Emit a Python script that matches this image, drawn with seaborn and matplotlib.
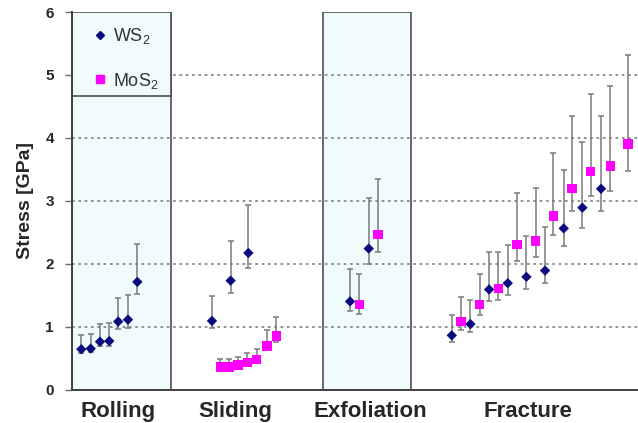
import numpy as np
import pandas as pd
import matplotlib
matplotlib.use("Agg")
import matplotlib.pyplot as plt
import seaborn as sns

# slot positions along the x axis (one slot per measurement)
ws2_x = [1, 2, 3, 4, 4.95, 6, 7,
         15, 17, 18.9,
         29.8, 31.8,
         40.7, 42.7, 44.7, 46.7, 48.7, 50.7, 52.7, 54.7, 56.7]
ws2_y = [0.64, 0.65, 0.76, 0.77, 1.08, 1.11, 1.71,
         1.09, 1.73, 2.17,
         1.40, 2.24,
         0.86, 1.04, 1.59, 1.69, 1.79, 1.89, 2.56, 2.89, 3.19]
ws2_lo = [0.58, 0.59, 0.69, 0.69, 0.96, 0.97, 1.52,
          0.97, 1.54, 1.93,
          1.25, 2.00,
          0.76, 0.92, 1.41, 1.50, 1.59, 1.70, 2.28, 2.57, 2.84]
ws2_hi = [0.86, 0.89, 1.04, 1.06, 1.46, 1.50, 2.32,
          1.48, 2.36, 2.94,
          1.92, 3.04,
          1.18, 1.42, 2.18, 2.30, 2.44, 2.58, 3.49, 3.94, 4.35]

mos2_x = [15.9, 16.85, 17.8, 18.8, 19.8, 20.9, 21.9,
          30.8, 32.8,
          41.7, 43.7, 45.7, 47.7, 49.7, 51.6, 53.6, 55.6, 57.7, 59.6]
mos2_y = [0.36, 0.36, 0.39, 0.43, 0.48, 0.69, 0.85,
          1.35, 2.46,
          1.08, 1.35, 1.61, 2.30, 2.36, 2.76, 3.20, 3.47, 3.55, 3.90]
mos2_lo = [0.33, 0.33, 0.35, 0.39, 0.44, 0.62, 0.75,
           1.20, 2.18,
           0.95, 1.19, 1.42, 2.05, 2.10, 2.45, 2.84, 3.08, 3.16, 3.47]
mos2_hi = [0.49, 0.49, 0.51, 0.58, 0.64, 0.94, 1.16,
           1.83, 3.34,
           1.47, 1.84, 2.19, 3.12, 3.21, 3.76, 4.35, 4.70, 4.83, 5.31]

categories = ["Rolling", "Sliding", "Exfoliation", "Fracture"]
category_pos = [4.93, 17.5, 32.0, 48.9]
shaded = [(0, 10.6), (26.9, 36.3)]

ws2_col = "#0a0a80"
mos2_col = "#ff00ff"
shade_col = "#effbfd"
edge_col = "#505050"

sns.set_style("white")
plt.rcParams["font.family"] = ["Liberation Sans", "DejaVu Sans"]
plt.rcParams["mathtext.fontset"] = "custom"
plt.rcParams["mathtext.rm"] = "Liberation Sans"
plt.rcParams["mathtext.it"] = "Liberation Sans"

df = pd.concat([
    pd.DataFrame({"x": ws2_x, "y": ws2_y, "lo": ws2_lo, "hi": ws2_hi, "mat": "WS$_2$"}),
    pd.DataFrame({"x": mos2_x, "y": mos2_y, "lo": mos2_lo, "hi": mos2_hi, "mat": "MoS$_2$"}),
], ignore_index=True)

fig = plt.figure(figsize=(6.38, 4.23), dpi=100)
ax = fig.add_axes([72 / 638, 33.5 / 423, 566 / 638, 377.5 / 423])

for a, b in shaded:
    ax.axvspan(a, b, facecolor=shade_col, edgecolor=edge_col, lw=1.2, zorder=0)

for v in range(1, 6):
    ax.axhline(v, color="#8a8a8a", lw=1.3, ls=(0, (1.5, 2)), zorder=1)

ax.errorbar(df["x"], df["y"], yerr=[df["y"] - df["lo"], df["hi"] - df["y"]],
            fmt="none", ecolor="#7a7a7a", elinewidth=1.1, capsize=2.5,
            capthick=1.1, zorder=2)

sns.scatterplot(data=df, x="x", y="y", hue="mat", style="mat",
                palette={"WS$_2$": ws2_col, "MoS$_2$": mos2_col},
                markers={"WS$_2$": "D", "MoS$_2$": "s"},
                size="mat", sizes={"WS$_2$": 28, "MoS$_2$": 45},
                edgecolor="none", linewidth=0, ax=ax, zorder=3, legend=False)

# legend box on top of the Rolling region
ax.add_patch(plt.Rectangle((0, 4.66), 10.6, 1.34, facecolor=shade_col,
                           edgecolor=edge_col, lw=1.2, zorder=4))
h1 = plt.Line2D([], [], ls="none", marker="D", color=ws2_col, markersize=4.5)
h2 = plt.Line2D([], [], ls="none", marker="s", color=mos2_col, markersize=6)
leg = ax.legend([h1, h2], ["WS$_2$", "MoS$_2$"], loc="upper left",
                bbox_to_anchor=(0.004, 1.005), frameon=False, fontsize=13,
                labelspacing=1.35, handlelength=1.0, handletextpad=0.25)
leg.set_zorder(5)
for t in leg.get_texts():
    t.set_color("#333333")

ax.set_xlim(0, 60.66)
ax.set_ylim(0, 6)
ax.set_yticks(range(0, 7))
ax.set_yticklabels([str(v) for v in range(0, 7)], fontsize=11, fontweight="bold")
ax.set_xticks(category_pos)
ax.set_xticklabels(categories, fontsize=16, fontweight="bold")
ax.tick_params(axis="x", length=0, pad=8)
ax.tick_params(axis="y", direction="out", length=5, width=1, color="#707070",
               pad=8, left=True)
ax.set_xlabel("")
ax.set_ylabel("Stress [GPa]", fontsize=14, fontweight="bold", labelpad=8)

for s in ["top", "right"]:
    ax.spines[s].set_visible(False)
for s in ["left", "bottom"]:
    ax.spines[s].set_color("#404040")
    ax.spines[s].set_linewidth(1.4)
    ax.spines[s].set_zorder(6)

fig.savefig("out.png", dpi=100)
